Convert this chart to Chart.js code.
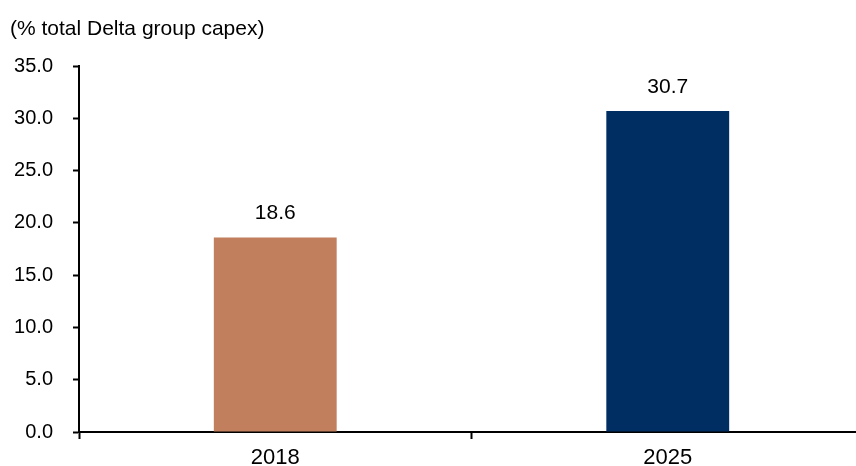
<!DOCTYPE html>
<html>
<head>
<meta charset="utf-8">
<script src="https://cdn.jsdelivr.net/npm/chart.js@4/dist/chart.umd.min.js"></script>
<style>
  html, body { margin: 0; padding: 0; background: #fff; overflow: hidden; }
  #wrap { width: 864px; height: 466px; }
</style>
</head>
<body>
<div id="wrap"><canvas id="capex-chart" width="864" height="466"></canvas></div>
<script>
// chart data
const years = ['2018', '2025'];
const capexShare = [18.6, 30.7];
const barColors = ['#C17F5D', '#002D62'];
const yTicks = [0, 5, 10, 15, 20, 25, 30, 35];
const unitLabel = '(% total Delta group capex)';

const FONT = '"Liberation Sans", Arial, sans-serif';

// title + value labels drawn on top
const labelPlugin = {
  id: 'labels',
  afterDatasetsDraw(chart) {
    const ctx = chart.ctx;
    ctx.save();
    ctx.fillStyle = '#000';
    ctx.font = '21px ' + FONT;
    ctx.textBaseline = 'middle';
    ctx.textAlign = 'left';
    ctx.fillText(unitLabel, 10, 29);

    ctx.textAlign = 'center';
    const meta = chart.getDatasetMeta(0);
    meta.data.forEach((bar, i) => {
      ctx.fillText(capexShare[i].toFixed(1), bar.x, bar.y - 24);
    });
    ctx.restore();
  }
};

const ctx = document.getElementById('capex-chart').getContext('2d');
new Chart(ctx, {
  type: 'bar',
  data: {
    labels: years,
    datasets: [{
      data: capexShare,
      backgroundColor: barColors,
      borderWidth: 0,
      barPercentage: 0.313,
      categoryPercentage: 1
    }]
  },
  options: {
    responsive: false,
    animation: false,
    layout: { padding: { top: 66, left: 0, right: 0, bottom: 0 } },
    plugins: {
      legend: { display: false },
      tooltip: { enabled: false }
    },
    scales: {
      x: {
        offset: true,
        grid: {
          offset: true,
          drawOnChartArea: false,
          drawTicks: true,
          tickLength: 7,
          tickWidth: 2,
          tickColor: '#000'
        },
        border: { color: '#000', width: 2 },
        ticks: {
          color: '#000',
          font: { family: FONT, size: 22 },
          padding: 6
        },
        afterFit: (scale) => { scale.height = 34; }
      },
      y: {
        min: 0,
        max: 35,
        afterBuildTicks: (scale) => { scale.ticks = yTicks.map(v => ({ value: v })); },
        grid: {
          drawOnChartArea: false,
          drawTicks: true,
          tickLength: 6,
          tickWidth: 2,
          tickColor: '#000'
        },
        border: { color: '#000', width: 2 },
        ticks: {
          color: '#000',
          font: { family: FONT, size: 20 },
          padding: 20,
          callback: (v) => Number(v).toFixed(1)
        },
        afterFit: (scale) => { scale.width = 79; }
      }
    }
  },
  plugins: [labelPlugin]
});
</script>
</body>
</html>
